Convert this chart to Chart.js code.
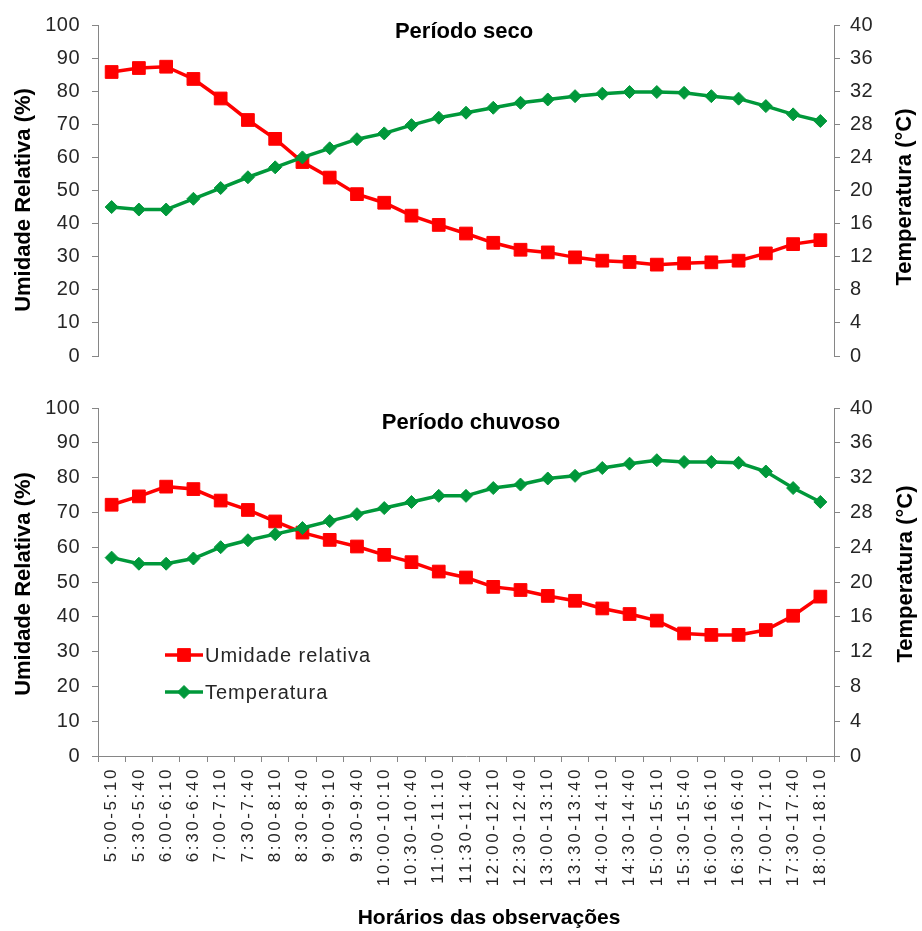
<!DOCTYPE html>
<html lang="pt">
<head>
<meta charset="utf-8">
<title>Umidade relativa e temperatura</title>
<script src="https://cdn.jsdelivr.net/npm/chart.js@4.4.1/dist/chart.umd.min.js"></script>
<style>
  html, body { margin: 0; padding: 0; background: #ffffff; }
  #wrap { position: relative; width: 922px; height: 931px; overflow: hidden; }
  .panel { position: absolute; left: 0; }
  #top { top: 0; }
  #bottom { top: 380px; }
</style>
</head>
<body>
<div id="wrap">
  <div class="panel" id="top"><canvas id="cSeco" width="922" height="380"></canvas></div>
  <div class="panel" id="bottom"><canvas id="cChuvoso" width="922" height="551"></canvas></div>
</div>
<script>
// Horários das observações (categorias do eixo x)
const horarios = ['5:00-5:10','5:30-5:40','6:00-6:10','6:30-6:40','7:00-7:10','7:30-7:40',
  '8:00-8:10','8:30-8:40','9:00-9:10','9:30-9:40','10:00-10:10','10:30-10:40','11:00-11:10',
  '11:30-11:40','12:00-12:10','12:30-12:40','13:00-13:10','13:30-13:40','14:00-14:10',
  '14:30-14:40','15:00-15:10','15:30-15:40','16:00-16:10','16:30-16:40','17:00-17:10',
  '17:30-17:40','18:00-18:10'];

// Período seco
const umidadeSeco = [85.8, 87.0, 87.4, 83.7, 77.8, 71.3, 65.6, 58.6, 53.9, 48.9, 46.3, 42.4, 39.6,
  37.0, 34.2, 32.1, 31.3, 29.8, 28.8, 28.4, 27.6, 28.0, 28.3, 28.8, 31.0, 33.8, 35.0];
const temperaturaSeco = [18.0, 17.7, 17.7, 19.0, 20.3, 21.6, 22.8, 24.0, 25.1, 26.2, 26.9, 27.9, 28.8,
  29.4, 30.0, 30.6, 31.0, 31.4, 31.7, 31.9, 31.9, 31.8, 31.4, 31.1, 30.2, 29.2, 28.4];

// Período chuvoso
const umidadeChuvoso = [72.2, 74.6, 77.4, 76.7, 73.4, 70.7, 67.4, 64.2, 62.1, 60.2, 57.8, 55.7, 53.0,
  51.3, 48.6, 47.7, 46.0, 44.6, 42.4, 40.8, 38.9, 35.2, 34.8, 34.8, 36.2, 40.3, 45.8];
const temperaturaChuvoso = [22.8, 22.1, 22.1, 22.7, 24.0, 24.8, 25.5, 26.2, 27.0, 27.8, 28.5, 29.2, 29.9,
  29.9, 30.8, 31.2, 31.9, 32.2, 33.1, 33.6, 34.0, 33.8, 33.8, 33.7, 32.7, 30.8, 29.2];

// Escalas dos eixos
const umidadeEscala = { min: 0, max: 100, passo: 10 };
const temperaturaEscala = { min: 0, max: 40, passo: 4 };

const VERMELHO = '#ff0000';
const VERDE = '#00983a';
const EIXO = '#868686';
const TEXTO = '#262626';
const FONTE = '"Liberation Sans", Arial, Helvetica, sans-serif';

// Espaçamento entre letras dos rótulos de cada escala
const labelSpacing = {
  id: 'labelSpacing',
  afterLayout(chart) {
    Object.values(chart.scales).forEach(s => {
      if (s.__spaced) return;
      const orig = s.drawLabels.bind(s);
      const sp = s.options.ticks.letterSpacing || 0;
      s.drawLabels = function (area) {
        const ctx = this.ctx;
        ctx.save();
        ctx.letterSpacing = sp + 'px';
        orig(area);
        ctx.restore();
      };
      s.__spaced = true;
    });
  }
};

// Títulos dos painéis, dos eixos e legenda
const panelText = {
  id: 'panelText',
  afterDraw(chart, args, o) {
    const ctx = chart.ctx;
    ctx.save();
    ctx.letterSpacing = '0px';
    ctx.fillStyle = '#000000';
    ctx.textAlign = 'center';
    ctx.textBaseline = 'middle';
    ctx.font = 'bold 22px ' + FONTE;
    ctx.fillText(o.title, o.titleX, o.titleY);

    const rot = (txt, x, y) => {
      ctx.save();
      ctx.translate(x, y);
      ctx.rotate(-Math.PI / 2);
      ctx.fillText(txt, 0, 0);
      ctx.restore();
    };
    rot('Umidade Relativa (%)', o.leftX, o.leftY);
    rot('Temperatura (°C)', o.rightX, o.rightY);

    if (o.xTitle) {
      ctx.font = 'bold 21px ' + FONTE;
      ctx.fillText(o.xTitle, o.xTitleX, o.xTitleY);
    }

    if (o.legend) {
      ctx.font = '20px ' + FONTE;
      ctx.letterSpacing = '1px';
      ctx.textAlign = 'left';
      o.legend.forEach((item, i) => {
        const ds = chart.data.datasets[i];
        const y = item.y;
        ctx.strokeStyle = ds.borderColor;
        ctx.lineWidth = ds.borderWidth;
        ctx.beginPath();
        ctx.moveTo(o.legendX, y);
        ctx.lineTo(o.legendX + 38, y);
        ctx.stroke();
        ctx.fillStyle = ds.pointBackgroundColor;
        ctx.strokeStyle = ds.borderColor;
        ctx.lineWidth = ds.pointBorderWidth;
        ctx.beginPath();
        Chart.helpers.drawPoint(ctx, {
          pointStyle: ds.pointStyle,
          radius: ds.pointRadius,
          borderWidth: ds.pointBorderWidth,
          rotation: 0
        }, o.legendX + 19, y);
        ctx.fillStyle = TEXTO;
        ctx.fillText(ds.label, o.legendX + 40, y + 1);
      });
    }
    ctx.restore();
  }
};

function datasets(umidade, temperatura) {
  return [
    {
      label: 'Umidade relativa',
      data: umidade,
      yAxisID: 'yU',
      borderColor: VERMELHO,
      backgroundColor: VERMELHO,
      pointBackgroundColor: VERMELHO,
      pointBorderColor: VERMELHO,
      borderWidth: 3.5,
      pointStyle: 'rect',
      pointRadius: 9,
      pointBorderWidth: 1,
      tension: 0,
      order: 2
    },
    {
      label: 'Temperatura',
      data: temperatura,
      yAxisID: 'yT',
      borderColor: VERDE,
      backgroundColor: VERDE,
      pointBackgroundColor: VERDE,
      pointBorderColor: VERDE,
      borderWidth: 3.5,
      pointStyle: 'rectRot',
      pointRadius: 6.5,
      pointBorderWidth: 1,
      tension: 0,
      order: 1
    }
  ];
}

function yScales() {
  const common = {
    grid: { display: true, drawOnChartArea: false, drawTicks: true, tickLength: 6, color: EIXO, lineWidth: 1 },
    border: { display: true, color: EIXO, width: 1 },
  };
  return {
    yU: Object.assign({}, common, {
      position: 'left',
      min: umidadeEscala.min, max: umidadeEscala.max,
      ticks: { stepSize: umidadeEscala.passo, color: TEXTO, font: { family: FONTE, size: 20 }, padding: 12, letterSpacing: 0.5 },
      afterFit(s) { s.width = 98; }
    }),
    yT: Object.assign({}, common, {
      position: 'right',
      min: temperaturaEscala.min, max: temperaturaEscala.max,
      ticks: { stepSize: temperaturaEscala.passo, color: TEXTO, font: { family: FONTE, size: 20 }, padding: 10, letterSpacing: 0.5 },
      afterFit(s) { s.width = 88; }
    })
  };
}

Chart.defaults.font.family = FONTE;

// Painel superior: período seco
new Chart(document.getElementById('cSeco'), {
  type: 'line',
  data: { labels: horarios, datasets: datasets(umidadeSeco, temperaturaSeco) },
  options: {
    responsive: false,
    animation: false,
    devicePixelRatio: 1,
    layout: { padding: { top: 25, bottom: 16, left: 0, right: 0 } },
    plugins: {
      legend: { display: false },
      tooltip: { enabled: false },
      panelText: {
        title: 'Período seco', titleX: 464, titleY: 32,
        leftX: 24, leftY: 200, rightX: 905, rightY: 197
      }
    },
    scales: Object.assign({
      x: { type: 'category', offset: true, display: false }
    }, yScales())
  },
  plugins: [labelSpacing, panelText]
});

// Painel inferior: período chuvoso
new Chart(document.getElementById('cChuvoso'), {
  type: 'line',
  data: { labels: horarios, datasets: datasets(umidadeChuvoso, temperaturaChuvoso) },
  options: {
    responsive: false,
    animation: false,
    devicePixelRatio: 1,
    layout: { padding: { top: 28, bottom: 0, left: 0, right: 0 } },
    plugins: {
      legend: { display: false },
      tooltip: { enabled: false },
      panelText: {
        title: 'Período chuvoso', titleX: 471, titleY: 43,
        leftX: 24, leftY: 204, rightX: 906, rightY: 194,
        xTitle: 'Horários das observações', xTitleX: 489, xTitleY: 538,
        legendX: 165,
        legend: [{ y: 275 }, { y: 312 }]
      }
    },
    scales: Object.assign({
      x: {
        type: 'category',
        offset: true,
        grid: { display: true, offset: true, drawOnChartArea: false, drawTicks: true, tickLength: 6, color: EIXO, lineWidth: 1 },
        border: { display: true, color: EIXO, width: 1 },
        ticks: {
          autoSkip: false, minRotation: 90, maxRotation: 90,
          color: TEXTO, font: { family: FONTE, size: 17 }, padding: 5, letterSpacing: 2.6
        },
        afterFit(s) { s.height = 175; }
      }
    }, yScales())
  },
  plugins: [labelSpacing, panelText]
});
</script>
</body>
</html>
